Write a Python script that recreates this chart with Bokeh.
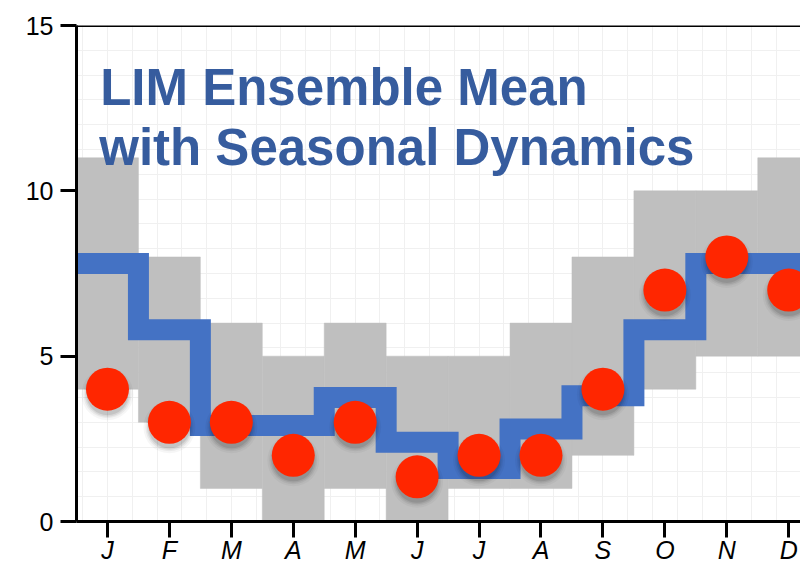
from bokeh.plotting import figure
from bokeh.models import (ColumnDataSource, FixedTicker, SingleIntervalTicker,
                          Span, Label, Range1d)
from bokeh.transform import dodge
from bokeh.embed import file_html
from bokeh.resources import INLINE

# ---- data ----
months = ["J", "F", "M", "A", "M", "J", "J", "A", "S", "O", "N", "D"]
band_low = [4, 3, 1, 0, 1, 0, 1, 1, 2, 4, 5, 5]
band_high = [11, 8, 6, 5, 6, 5, 5, 6, 8, 10, 10, 11]
ens_mean = [7.8, 5.8, 2.9, 2.9, 3.75, 2.4, 1.6, 2.8, 3.8, 5.8, 7.8, 7.8]
observed = [4, 3, 3, 2, 3, 1.35, 2, 2, 4, 7, 8, 7]
y_ticks = [0, 5, 10, 15]
title_lines = ["LIM Ensemble Mean", "with Seasonal Dynamics"]

idx = list(range(len(months)))

FONT = "Liberation Sans"

p = figure(width=800, height=566,
           x_range=Range1d(-0.5, 11.19), y_range=Range1d(0, 15),
           output_backend="svg", toolbar_location=None,
           min_border_left=76, min_border_right=0,
           min_border_top=25, min_border_bottom=45)
p.outline_line_color = None
p.background_fill_color = "white"
p.border_fill_color = "white"

# faint background grid
p.xgrid.ticker = SingleIntervalTicker(interval=0.4)
p.ygrid.ticker = SingleIntervalTicker(interval=0.75)
p.grid.grid_line_color = "#f0f0f0"
p.grid.grid_line_width = 1

# gray range band
band_src = ColumnDataSource(dict(x=idx, lo=band_low, hi=band_high))
p.vbar(x="x", width=1.0, bottom="lo", top="hi", source=band_src,
       fill_color="#bfbfbf", line_color="#bfbfbf", line_width=0.5)

# blue stepped ensemble mean
step_x, step_y = [], []
for i, v in zip(idx, ens_mean):
    step_x += [i - 0.5, i + 0.5]
    step_y += [v, v]
p.line(step_x, step_y, line_width=21, line_color="#4472c4",
       line_join="miter", line_cap="butt")

# red observed dots with soft shadow
obs_src = ColumnDataSource(dict(x=idx, y=observed))
for sz, a in [(52, 0.035), (48, 0.05), (45, 0.07), (42, 0.09)]:
    p.scatter(x="x", y=dodge("y", -0.15, range=p.y_range), size=sz,
              fill_color="black", fill_alpha=a, line_color=None, source=obs_src)
p.scatter(x="x", y="y", size=43, fill_color="#ff2600", line_color=None,
          source=obs_src)

# axes
p.yaxis.ticker = FixedTicker(ticks=y_ticks)
p.xaxis.ticker = FixedTicker(ticks=idx)
for ax in (p.xaxis[0], p.yaxis[0]):
    ax.axis_line_width = 3
    ax.axis_line_color = "black"
    ax.major_tick_line_width = 3
    ax.major_tick_line_color = "black"
    ax.major_tick_out = 16
    ax.major_tick_in = 0
    ax.minor_tick_out = 0
    ax.minor_tick_in = 0
    ax.major_label_text_font = FONT
    ax.major_label_text_font_size = "25px"
    ax.major_label_text_color = "black"
p.yaxis.major_label_standoff = 7

p.xaxis.major_label_overrides = {i: m for i, m in zip(idx, months)}
p.xaxis.major_label_text_font_style = "italic"
p.xaxis.major_label_standoff = -2

# top frame line
p.add_layout(Span(location=15, dimension="width", line_color="black",
                  line_width=3))

# title inside the plot
p.add_layout(Label(x=-0.117, y=13.12, text=title_lines[0], text_font=FONT,
                   text_font_size="51px", text_font_style="bold",
                   text_color="#365c9e", text_baseline="alphabetic"))
p.add_layout(Label(x=-0.133, y=11.31, text=title_lines[1], text_font=FONT,
                   text_font_size="51px", text_font_style="bold",
                   text_color="#365c9e", text_baseline="alphabetic"))

open("out.html", "w").write(file_html(p, INLINE))
